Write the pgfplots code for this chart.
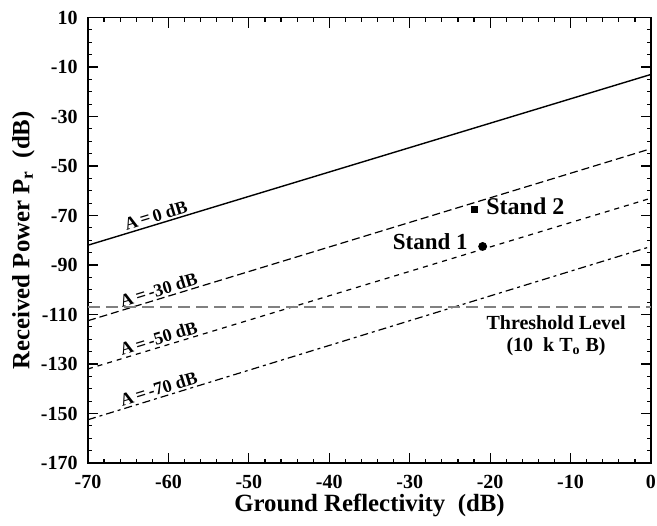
\documentclass[border=0pt]{standalone}
\usepackage{fontspec}
\setmainfont{Liberation Serif}
\usepackage{pgfplots}
\pgfplotsset{compat=1.18}
\begin{document}
\begin{tikzpicture}
\useasboundingbox (-44pt,-31pt) rectangle (284.5pt,231.5pt);
\begin{axis}[
  at={(0pt,0pt)}, anchor=south west,
  scale only axis, width=281.5pt, height=222.75pt,
  xmin=-70, xmax=0, ymin=-170, ymax=10,
  xtick={-70,-60,...,0}, ytick={-170,-150,...,10},
  minor x tick num=4, minor y tick num=3,
  major tick length=5pt, minor tick length=2pt,
  tick align=inside,
  axis line style={line width=0.7pt},
  every tick/.style={black, line width=0.6pt},
  tick label style={font=\fontsize{10}{12}\selectfont\bfseries},
  xticklabel style={yshift=-2.5pt},
  yticklabel style={xshift=-1.7pt},
  /pgf/number format/assume math mode=true,
  xlabel={Ground Reflectivity\ \ (dB)},
  ylabel={Received Power P\textsubscript{r}\ \ (dB)},
  label style={font=\fontsize{12.4}{14}\selectfont\bfseries, inner sep=0pt},
  xlabel style={at={(axis description cs:0.5,-0.0696)}, anchor=north},
  ylabel style={at={(axis description cs:-0.0941,0.5)}, anchor=south},
  clip=false,
]
\addplot[black, line width=0.7pt] coordinates {(-70,-82) (0,-13)}
  node[pos=0.125, sloped, above, inner sep=1pt, font=\fontsize{9}{10}\selectfont\bfseries] {A\,=\,0 dB};
\addplot[black, line width=0.6pt, dash pattern=on 4pt off 2pt] coordinates {(-70,-112.5) (0,-43)}
  node[pos=0.13, sloped, above, inner sep=1pt, font=\fontsize{9}{10}\selectfont\bfseries] {A\,=\,-30 dB};
\addplot[black, line width=0.6pt, dash pattern=on 2.5pt off 2.5pt] coordinates {(-70,-132) (0,-63)}
  node[pos=0.13, sloped, above, inner sep=1pt, font=\fontsize{9}{10}\selectfont\bfseries] {A\,=\,-50 dB};
\addplot[black, line width=0.6pt, dash pattern=on 4pt off 2pt on 1.5pt off 2pt] coordinates {(-70,-152.5) (0,-82.5)}
  node[pos=0.13, sloped, above, inner sep=1pt, font=\fontsize{9}{10}\selectfont\bfseries] {A\,=\,-70 dB};
\addplot[gray, line width=0.8pt, dash pattern=on 6pt off 3pt] coordinates {(-70,-107) (0,-107)};
\addplot[only marks, mark=square*, mark size=1.5pt, black] coordinates {(-21.97,-67.4)};
\addplot[only marks, mark=*, mark size=2pt, black] coordinates {(-20.93,-82.5)};
\node[anchor=base west, inner sep=0pt, font=\fontsize{12}{14}\selectfont\bfseries] at (axis cs:-20.52,-69.7) {Stand 2};
\node[anchor=base east, inner sep=0pt, font=\fontsize{11.5}{14}\selectfont\bfseries] at (axis cs:-22.75,-83.8) {Stand 1};
\node[anchor=base, inner sep=0pt, font=\fontsize{10}{12}\selectfont\bfseries] at (axis cs:-11.8,-116.1) {Threshold Level};
\node[anchor=base, inner sep=0pt, font=\fontsize{10}{12}\selectfont\bfseries] at (axis cs:-11.8,-125) {(10\ \ k T\textsubscript{o} B)};
\end{axis}
\end{tikzpicture}
\end{document}
